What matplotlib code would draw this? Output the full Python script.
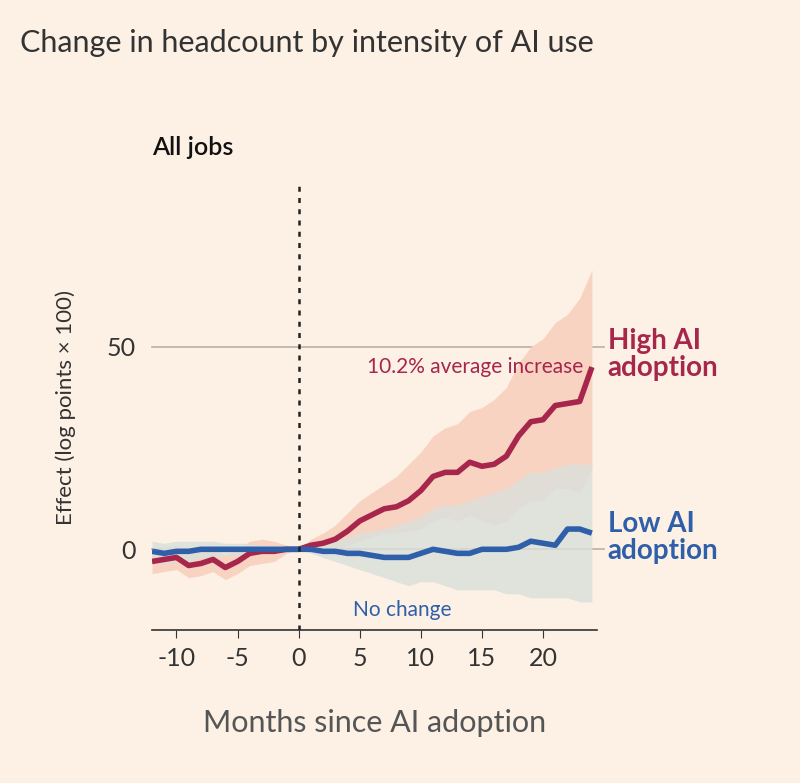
import matplotlib
matplotlib.use("Agg")
import matplotlib.pyplot as plt
import numpy as np

plt.rcParams['font.family'] = ['Lato', 'DejaVu Sans']

months = list(range(-12, 25))
high = [-3,-2.5,-2,-4,-3.5,-2.5,-4.5,-3,-1,-0.5,-0.5,0,0,1,1.5,2.5,4.5,7,8.5,10,10.5,12,14.5,18,19,19,21.5,20.5,21,23,28,31.5,32,35.5,36,36.5,45]
high_hi = [0,0.5,1,-1,-0.5,0.5,-1.5,0,2,2.5,2,1,0,2.5,4,6,9,12,14,16,18,21,24,28,30,31,34,35,37,40,46,50,52,56,58,62,69]
high_lo = [-6,-5.5,-5,-7,-6.5,-5.5,-7.5,-6,-4,-3.5,-3,-1,0,-0.5,-0.5,0,1,2,3,4,4,4.5,5,7,8,7,8.5,7,6,7,10,12,12,15,15,14,20]
low = [-0.5,-1,-0.5,-0.5,0,0,0,0,0,0,0,0,0,0,-0.5,-0.5,-1,-1,-1.5,-2,-2,-2,-1,0,-0.5,-1,-1,0,0,0,0.5,2,1.5,1,5,5,4]
low_hi = [2,1.5,2,2,2,2,1.5,1.5,1.5,1,1,0.5,0,1,1.5,2,3,4,4.5,5,6,7,8,10,11,11,12,13,14,15,17,19,19,20,21,21,21]
low_lo = [-3,-3.5,-3,-3,-2,-2,-1.5,-1.5,-1.5,-1,-1,-0.5,0,-1,-2,-3,-4,-5,-6,-7,-8,-9,-8,-8,-9,-10,-10,-10,-10,-11,-11,-12,-12,-12,-12,-13,-13]

bg = "#fdf1e6"
red = "#a6264c"
blue = "#2e5fa8"

fig = plt.figure(figsize=(8, 7.83), dpi=100, facecolor=bg)
ax = fig.add_axes([0.19, 0.195, 0.556, 0.569], facecolor=bg)
ax.set_xlim(-12, 24.4)
ax.set_ylim(-20, 90)

for y in [0, 50]:
    ax.plot([-12, 25], [y, y], color="#b8b0a8", lw=1.2, clip_on=False, zorder=1)

ax.fill_between(months, high_lo, high_hi, color="#f8d3c2", lw=0, zorder=2)
ax.fill_between(months, low_lo, low_hi, color="#d9e0da", alpha=0.8, lw=0, zorder=3)
ax.plot(months, high, color=red, lw=4, zorder=5, solid_capstyle="butt")
ax.plot(months, low, color=blue, lw=4, zorder=6, solid_capstyle="butt")
ax.axvline(0, color="#222222", lw=1.8, ls=(0, (2, 2.5)), zorder=7)

for s in ["top", "right", "left"]:
    ax.spines[s].set_visible(False)
ax.spines["bottom"].set_color("#333333")
ax.spines["bottom"].set_linewidth(1.2)
ax.set_xticks([-10, -5, 0, 5, 10, 15, 20])
ax.set_xticklabels(["-10", "-5", "0", "5", "10", "15", "20"])
ax.tick_params(axis="x", length=6, color="#333333", labelsize=18, labelcolor="#333333", pad=6)
ax.set_yticks([0, 50])
ax.tick_params(axis="y", length=0, labelsize=18, labelcolor="#333333", pad=12)
ax.set_ylabel("Effect (log points × 100)", fontsize=16, color="#333333", labelpad=22)
ax.set_xlabel("Months since AI adoption", fontsize=22, color="#555555", labelpad=28)

ax.text(23.3, 45, "10.2% average increase", color=red, fontsize=15, ha="right", va="center")
ax.text(8.5, -15, "No change", color=blue, fontsize=15, ha="center", va="center")
ax.text(25.3, 48, "High AI\nadoption", color=red, fontsize=20, fontweight="bold", ha="left", va="center", linespacing=1.05)
ax.text(25.3, 3, "Low AI\nadoption", color=blue, fontsize=20, fontweight="bold", ha="left", va="center", linespacing=1.05)

fig.text(0.025, 0.945, "Change in headcount by intensity of AI use", fontsize=22, color="#333333", va="center")
fig.text(0.19, 0.812, "All jobs", fontsize=18, color="#111111", va="center", fontweight="semibold")

fig.savefig("out.png", dpi=100, facecolor=bg)
